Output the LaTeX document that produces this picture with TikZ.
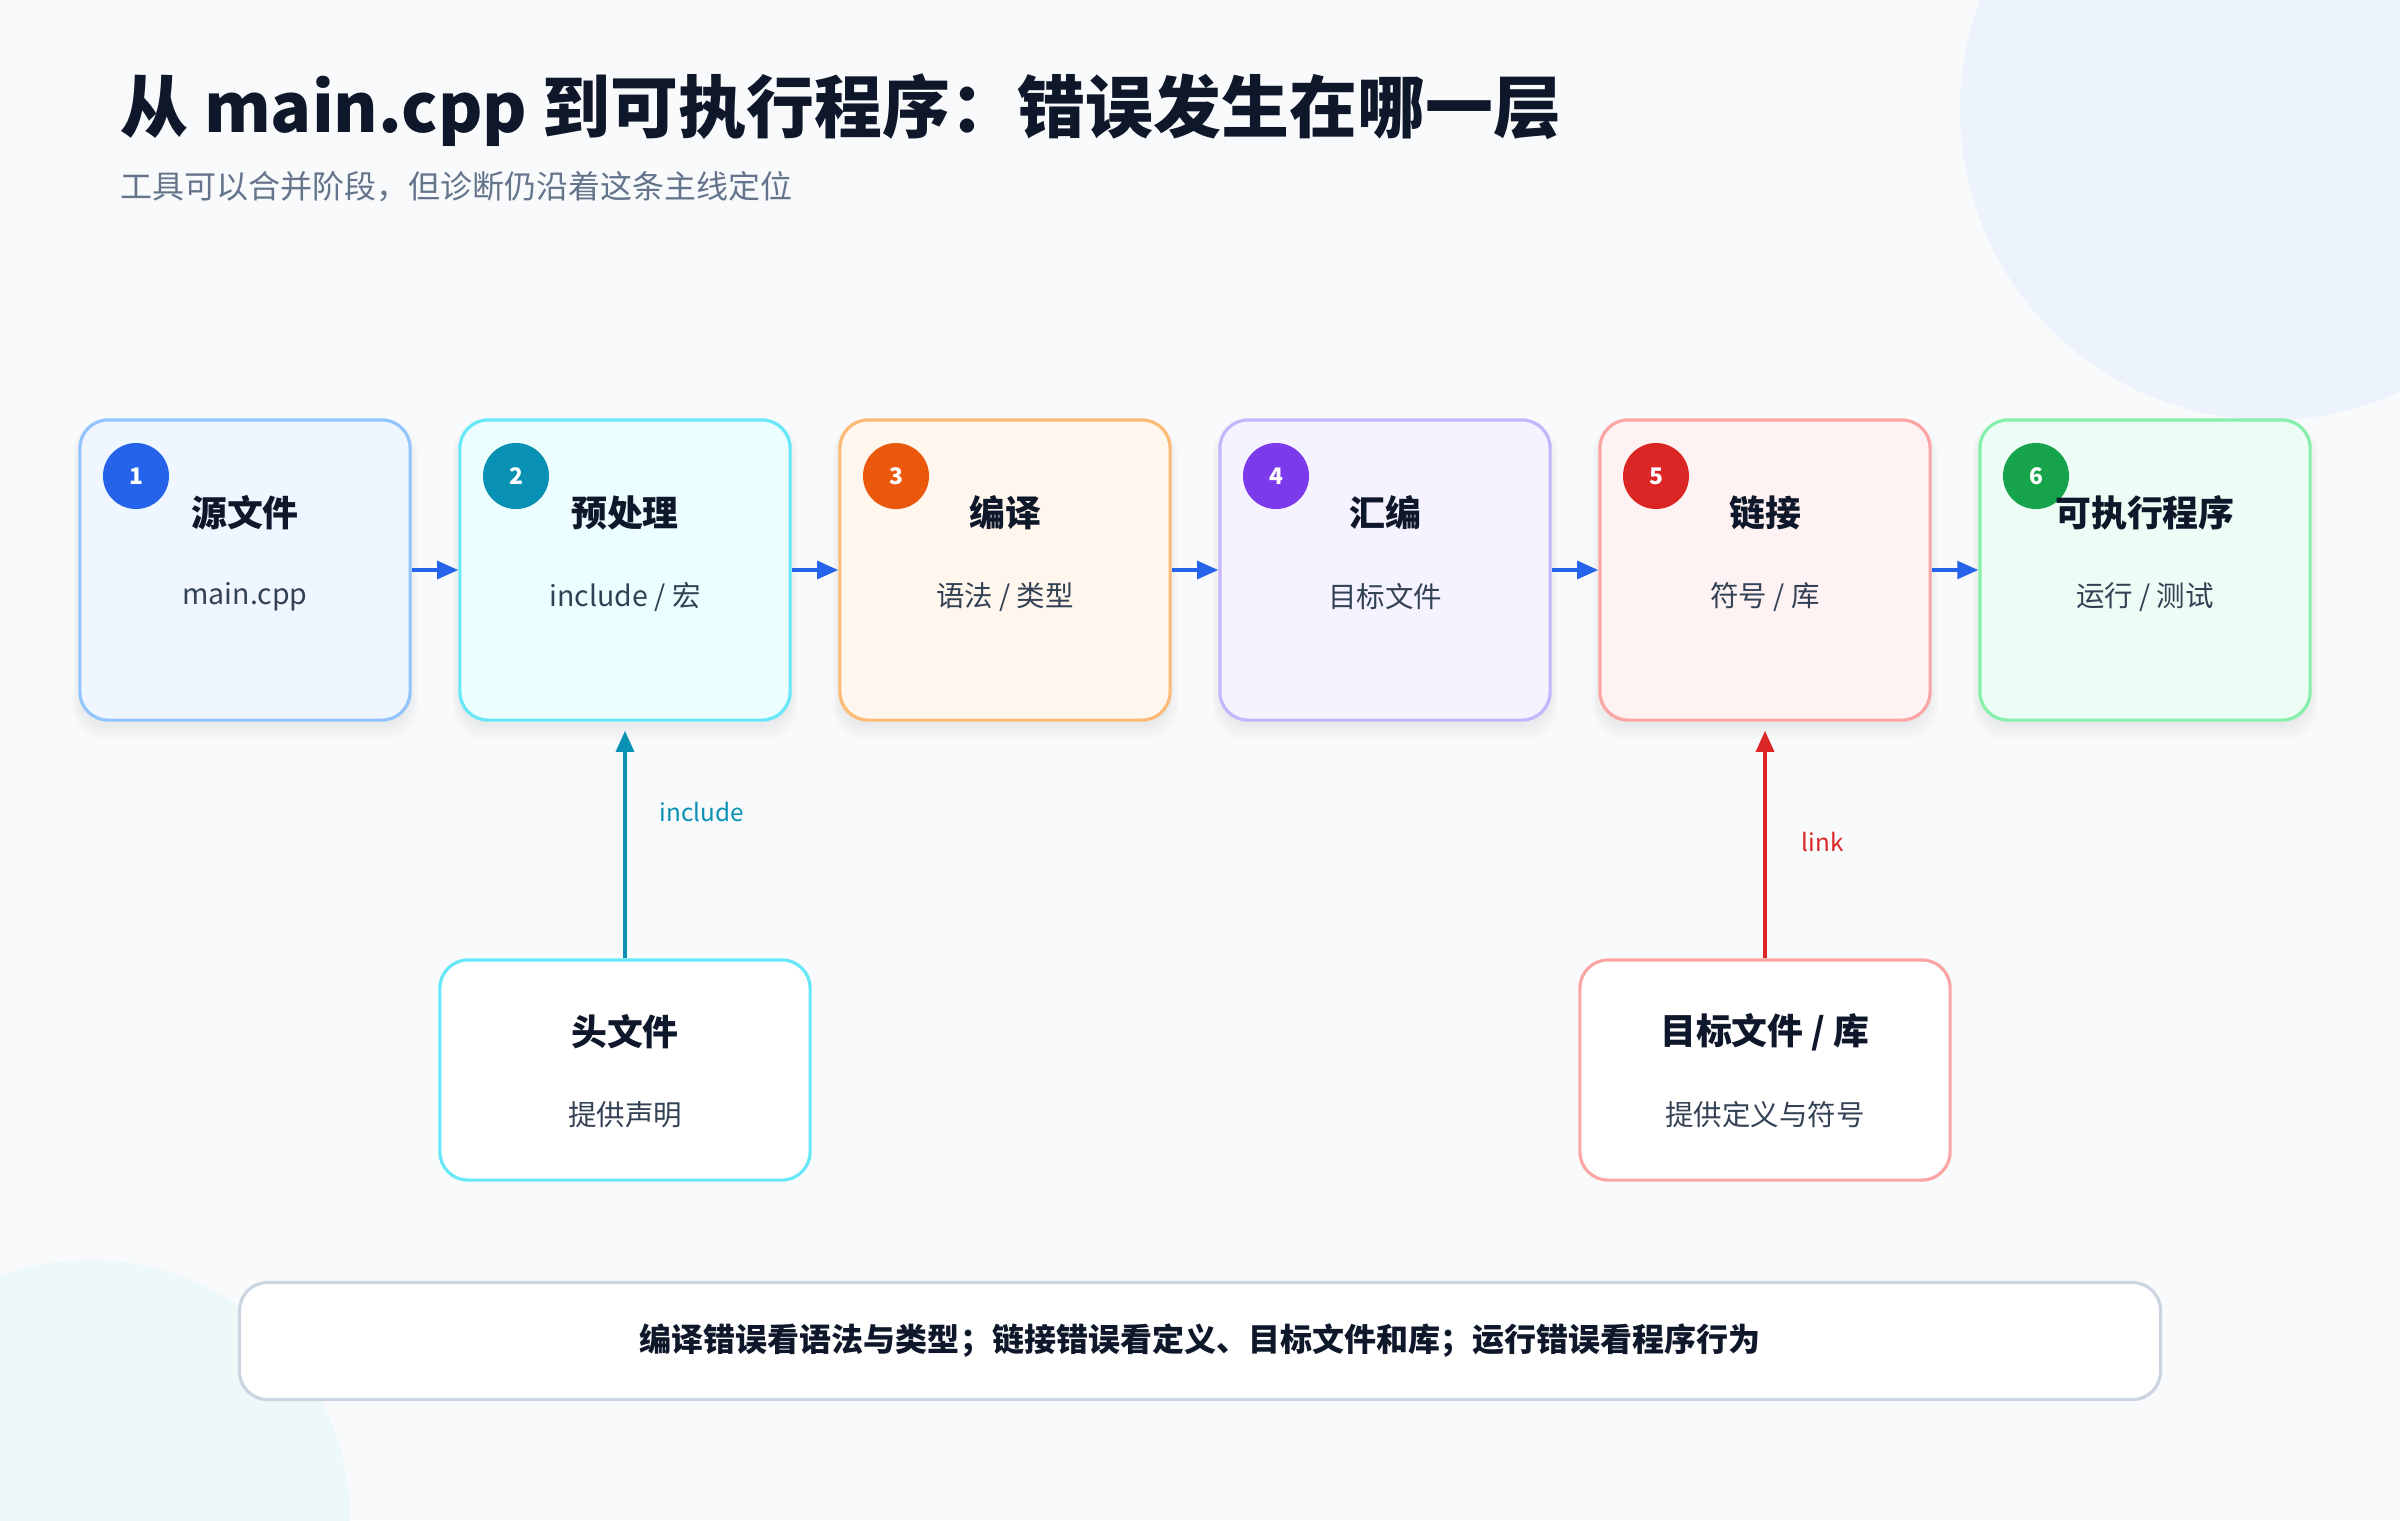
\documentclass[tikz,border=0pt]{standalone}
\usepackage{fontspec}
\setmainfont{Noto Sans CJK SC}
\usetikzlibrary{arrows.meta}

\definecolor{bg}{HTML}{F8FAFC}
\definecolor{ink}{HTML}{0F172A}
\definecolor{subink}{HTML}{334155}
\definecolor{muted}{HTML}{64748B}
\definecolor{flowblue}{HTML}{2563EB}
\definecolor{banner}{HTML}{CBD5E1}
\definecolor{blobblue}{HTML}{ECF3FD}
\definecolor{blobteal}{HTML}{EDF9F9}
% step colours: fill, border, badge
\definecolor{fill1}{HTML}{EFF6FF}\definecolor{line1}{HTML}{93C5FD}\definecolor{badge1}{HTML}{2563EB}
\definecolor{fill2}{HTML}{ECFEFF}\definecolor{line2}{HTML}{67E8F9}\definecolor{badge2}{HTML}{0891B2}
\definecolor{fill3}{HTML}{FFF7ED}\definecolor{line3}{HTML}{FDBA74}\definecolor{badge3}{HTML}{EA580C}
\definecolor{fill4}{HTML}{F5F3FF}\definecolor{line4}{HTML}{C4B5FD}\definecolor{badge4}{HTML}{7C3AED}
\definecolor{fill5}{HTML}{FEF2F2}\definecolor{line5}{HTML}{FCA5A5}\definecolor{badge5}{HTML}{DC2626}
\definecolor{fill6}{HTML}{ECFDF5}\definecolor{line6}{HTML}{86EFAC}\definecolor{badge6}{HTML}{16A34A}

\begin{document}
\begin{tikzpicture}[x=0.01cm, y=-0.01cm,
    stepbox/.style={draw, line width=0.9pt, rounded corners=8pt,
      minimum width=3.3cm, minimum height=3cm, inner sep=0pt},
    srcbox/.style={draw, line width=0.9pt, rounded corners=8pt, fill=white,
      minimum width=3.7cm, minimum height=2.2cm, inner sep=0pt},
    badge/.style={circle, minimum size=0.66cm, inner sep=0pt, text=white,
      font=\fontsize{6.5}{7}\selectfont\bfseries},
    steptitle/.style={text=ink, inner sep=0pt, font=\fontsize{10.2}{12}\selectfont\bfseries},
    stepsub/.style={text=subink, inner sep=0pt, font=\fontsize{8.1}{9}\selectfont},
    flow/.style={-{Triangle[length=6pt,width=5pt]}, line width=1.1pt, draw=flowblue},
    feed/.style={-{Triangle[length=6pt,width=5pt]}, line width=1.2pt, shorten >=0.09cm},
    tag/.style={anchor=west, inner sep=0pt, font=\fontsize{6.9}{8}\selectfont}]

  \useasboundingbox (0,0) rectangle (2400,1520);
  \fill[bg] (0,0) rectangle (2400,1520);
  \begin{scope}
    \clip (0,0) rectangle (2400,1520);
    \fill[blobblue] (2270,110) circle [radius=310];
    \fill[blobteal] (90,1520) circle [radius=260];
  \end{scope}

  % heading
  \node[anchor=west, inner sep=0pt, text=ink, font=\fontsize{19.3}{23}\selectfont\bfseries] (head) at (120,110)
    {从 main.cpp 到可执行程序：错误发生在哪一层};
  \node[anchor=west, inner sep=0pt, text=muted, font=\fontsize{9.1}{11}\selectfont] (subhead) at (120,187)
    {工具可以合并阶段，但诊断仍沿着这条主线定位};

  % the six stages
  \foreach \i/\t/\s in {1/源文件/main.cpp, 2/预处理/{include / 宏}, 3/编译/{语法 / 类型},
      4/汇编/目标文件, 5/链接/{符号 / 库}, 6/可执行程序/{运行 / 测试}} {
    \pgfmathsetmacro\x{245+380*(\i-1)}
    % soft shadow
    \foreach \r in {2,4,...,16}
      \fill[ink, opacity=0.008, rounded corners=9pt]
        (\x-165-\r*0.5, 428-\r*0.4) rectangle (\x+165+\r*0.5, 724+\r);
    \node[stepbox, draw=line\i, fill=fill\i] (s\i) at (\x,570) {};
    \node[badge, fill=badge\i] (b\i) at (\x-109,476) {\i};
    \node[steptitle] (t\i) at (\x,513) {\t};
    \node[stepsub] (u\i) at (\x,597) {\s};
  }
  \foreach \i [evaluate=\i as \j using int(\i+1)] in {1,...,5}
    \draw[flow] (s\i) -- (s\j);

  % inputs from below
  \node[srcbox, draw=line2] (hdr) at (625,1070) {};
  \node[steptitle] (hdrt) at (625,1032) {头文件};
  \node[stepsub] (hdrs) at (625,1115) {提供声明};
  \draw[feed, draw=badge2, fill=badge2] (hdr) -- (s2);
  \node[tag, text=badge2] (inc) at (659,812) {include};

  \node[srcbox, draw=line5] (obj) at (1765,1070) {};
  \node[steptitle] (objt) at (1765,1032) {目标文件 / 库};
  \node[stepsub] (objs) at (1765,1115) {提供定义与符号};
  \draw[feed, draw=badge5, fill=badge5] (obj) -- (s5);
  \node[tag, text=badge5] (lnk) at (1801,842) {link};

  % summary
  \node[draw=banner, line width=0.9pt, rounded corners=8pt, fill=white,
    minimum width=19.2cm, minimum height=1.17cm, text=ink,
    font=\fontsize{9.1}{11}\selectfont\bfseries] (note) at (1200,1341)
    {编译错误看语法与类型；链接错误看定义、目标文件和库；运行错误看程序行为};
\end{tikzpicture}
\end{document}
